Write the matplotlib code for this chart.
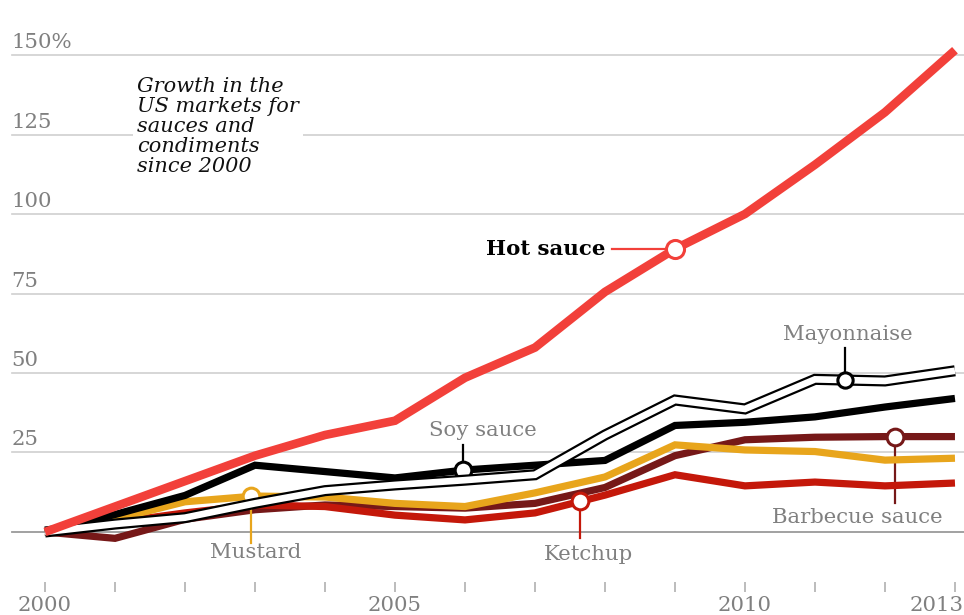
import matplotlib
matplotlib.use("Agg")
import matplotlib.pyplot as plt
import matplotlib.transforms as mtransforms
import numpy as np

# growth since 2000, in percent
years = np.arange(2000, 2014)
hot_sauce = [0, 8, 16, 24, 30.5, 35, 48.5, 58, 75.5, 89, 100, 115.5, 132, 151.5]
soy_sauce = [0, 5.5, 11.5, 21, 19, 17, 19.5, 21, 22.5, 33.5, 34.5, 36.2, 39.3, 42]
mayonnaise = [0, 2.5, 4.5, 9, 13, 14.8, 16.3, 18, 30.5, 41.5, 38.7, 48, 47.5, 50.7]
mustard = [0, 4, 9.5, 11.3, 11, 9, 8, 12.3, 17.3, 27.4, 25.8, 25.3, 22.6, 23.2]
ketchup = [0, 3, 6, 8.5, 8, 5.3, 3.8, 6, 11.6, 18, 14.5, 15.7, 14.5, 15.4]
barbecue = [0, -2, 4, 7, 8.5, 8, 7.5, 9, 14, 24, 29, 29.8, 30, 30]

grid_values = [25, 50, 75, 100, 125, 150]
grid_labels = ["25", "50", "75", "100", "125", "150%"]
year_labels = {2000: "2000", 2005: "2005", 2010: "2010", 2013: "2013"}

RED = "#f2403a"
KETCHUP = "#c4180a"
BBQ = "#761818"
MUSTARD = "#e8a51c"
GREY = "#808080"
FS = 15.3

plt.rcParams["font.family"] = ["DejaVu Serif"]

fig = plt.figure(figsize=(9.64, 6.15), dpi=100)
ax = fig.add_axes([0, 28 / 615, 1, 587 / 615])
ax.set_xlim(1999.357, 2013.129)
ax.set_ylim(-17.3, 167.3)
for s in ax.spines.values():
    s.set_visible(False)
ax.set_yticks([])

# gridlines and y labels
for v, lab in zip(grid_values, grid_labels):
    ax.axhline(v, xmin=12 / 964, color="#cfcfcf", lw=1.2, zorder=1)
    ax.text(0.012, v + 2.2, lab, transform=ax.get_yaxis_transform(),
            fontsize=FS, color=GREY, va="baseline", ha="left")
ax.axhline(0, xmin=12 / 964, color="#9a9a9a", lw=1.3, zorder=1)

# x ticks
ax.set_xticks(years)
ax.set_xticklabels([year_labels.get(y, "") for y in years])
ax.tick_params(axis="x", direction="inout", length=6.5, width=1.2,
               color="#b0b0b0", labelcolor=GREY, labelsize=FS, pad=3.5)
last = ax.get_xticklabels()[-1]
last.set_horizontalalignment("right")
last.set_transform(last.get_transform() +
                   mtransforms.ScaledTranslation(0.09, 0, fig.dpi_scale_trans))

# lines, bottom to top
line_kw = dict(solid_joinstyle="miter", solid_capstyle="butt")
ax.plot(years, barbecue, color=BBQ, lw=5.2, zorder=3, **line_kw)
ax.plot(years, ketchup, color=KETCHUP, lw=5.2, zorder=4, **line_kw)
ax.plot(years, mustard, color=MUSTARD, lw=5.2, zorder=5, **line_kw)
ax.plot(years, soy_sauce, color="black", lw=5.2, zorder=6, **line_kw)
ax.plot(years, mayonnaise, color="black", lw=8, zorder=7, **line_kw)
ax.plot(years, mayonnaise, color="white", lw=4.8, zorder=7.1, **line_kw)
ax.plot(years, hot_sauce, color=RED, lw=6.2, zorder=8, **line_kw)


def callout(series, at, color, text, tx, ty, lead_to, z, ms=12):
    y = np.interp(at, years, series)
    ax.plot([at, at], [y, lead_to], color=color, lw=1.6, zorder=z - 0.05)
    ax.plot(at, y, "o", ms=ms, mfc="white", mec=color, mew=2.2, zorder=z + 0.5)
    ax.text(tx, ty, text, fontsize=FS, color=GREY, ha="center", va="center")


callout(mayonnaise, 2011.43, "black", "Mayonnaise", 2011.47, 62, 57.9, 7.2, ms=11)
callout(soy_sauce, 2005.97, "black", "Soy sauce", 2006.26, 32, 27.4, 6)
callout(mustard, 2002.95, MUSTARD, "Mustard", 2003.01, -6.6, -3.5, 5)
callout(ketchup, 2007.65, KETCHUP, "Ketchup", 2007.76, -7.2, -1.9, 4)
callout(barbecue, 2012.14, BBQ, "Barbecue sauce", 2011.6, 4.4, 9.1, 3)

# hot sauce label with horizontal leader
hy = np.interp(2009, years, hot_sauce)
ax.plot([2008.1, 2009], [hy, hy], color=RED, lw=1.6, zorder=8)
ax.plot(2009, hy, "o", ms=13, mfc="white", mec=RED, mew=2.2, zorder=9)
ax.text(2008.0, hy, "Hot sauce", fontsize=FS, fontweight="bold", color="black",
        ha="right", va="center")

ax.text(2001.314, 143.2, "Growth in the\nUS markets for\nsauces and\ncondiments\nsince 2000",
        fontsize=15, style="italic", color="#111111", va="top", ha="left",
        linespacing=1.08, zorder=2,
        bbox=dict(facecolor="white", edgecolor="none", pad=3))

fig.savefig("out.png", dpi=100, facecolor="white")
